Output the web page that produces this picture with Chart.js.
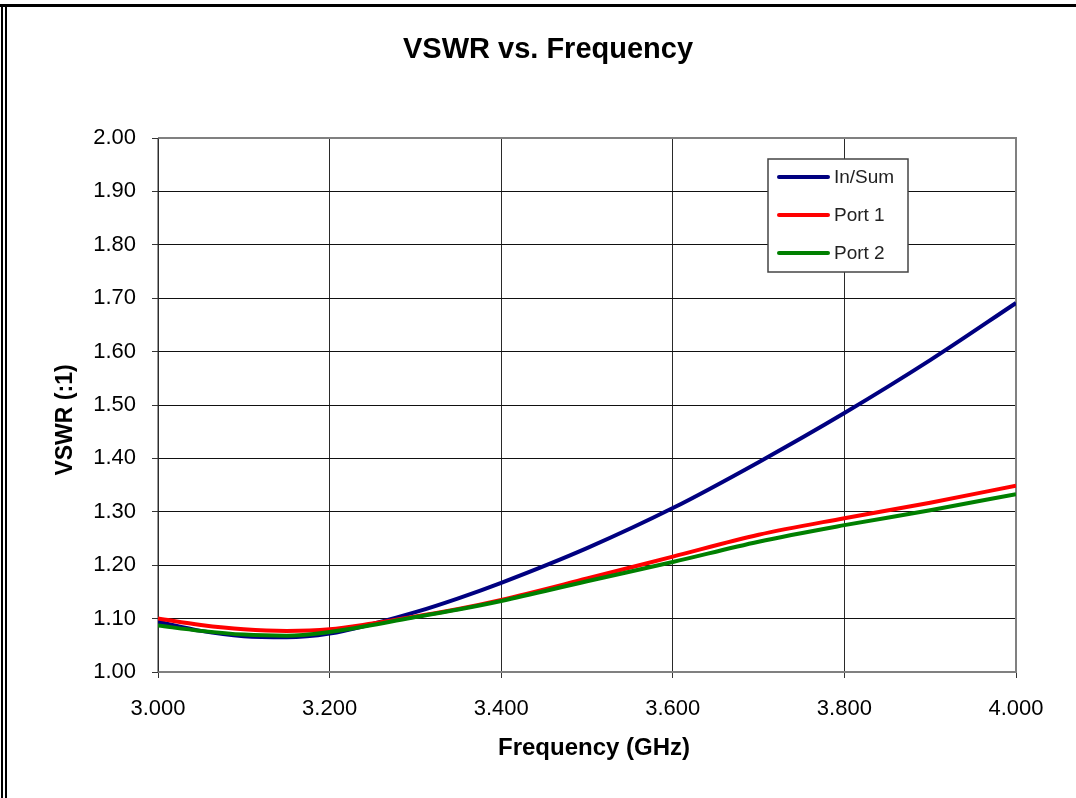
<!DOCTYPE html>
<html lang="en">
<head>
    <meta charset="UTF-8">
    <title>VSWR vs. Frequency</title>
    <script src="https://cdn.jsdelivr.net/npm/chart.js"></script>
    <style>
        html, body {
            margin: 0;
            padding: 0;
            background: #fff;
        }
        canvas {
            display: block;
        }
    </style>
</head>
<body>
    <canvas id="vswrChart" width="1076" height="798"></canvas>

    <script>
        // frequency points (GHz) and VSWR readings
        const freqs = [3.00, 3.05, 3.10, 3.15, 3.20, 3.25, 3.30, 3.35, 3.40, 3.50, 3.60, 3.70, 3.80, 3.90, 4.00];
        const inSum = [1.094, 1.077, 1.067, 1.065, 1.072, 1.090, 1.112, 1.138, 1.167, 1.232, 1.307, 1.393, 1.485, 1.584, 1.691];
        const port1 = [1.100, 1.088, 1.080, 1.077, 1.080, 1.091, 1.104, 1.118, 1.135, 1.175, 1.216, 1.257, 1.288, 1.317, 1.349];
        const port2 = [1.087, 1.077, 1.070, 1.068, 1.075, 1.088, 1.103, 1.117, 1.133, 1.170, 1.206, 1.244, 1.275, 1.303, 1.333];

        const seriesNames = ['In/Sum', 'Port 1', 'Port 2'];
        const seriesColors = ['#000080', '#ff0000', '#008000'];

        const xMin = 3.0, xMax = 4.0, xStep = 0.2;
        const yMin = 1.0, yMax = 2.0, yStep = 0.1;

        const chartTitle = 'VSWR vs. Frequency';
        const xTitle = 'Frequency (GHz)';
        const yTitle = 'VSWR (:1)';

        const FONT = '"Liberation Sans", Arial, sans-serif';

        function toPoints(vals) {
            return freqs.map((f, i) => ({ x: f, y: vals[i] }));
        }

        // frame, plot border, titles and the boxed legend
        const decorations = {
            id: 'decorations',
            beforeDatasetsDraw(chart) {
                const { ctx, chartArea: a } = chart;
                ctx.save();
                ctx.strokeStyle = '#808080';
                ctx.lineWidth = 2;
                ctx.beginPath();
                ctx.moveTo(a.left, a.top);
                ctx.lineTo(a.right, a.top);
                ctx.lineTo(a.right, a.bottom);
                ctx.lineTo(a.left, a.bottom);
                ctx.stroke();
                ctx.strokeStyle = '#333';
                ctx.lineWidth = 1;
                ctx.beginPath();
                ctx.moveTo(a.left, a.top);
                ctx.lineTo(a.left, a.bottom);
                ctx.stroke();
                ctx.restore();
            },
            afterDraw(chart) {
                const { ctx } = chart;
                ctx.save();

                // outer frame
                ctx.fillStyle = '#000';
                ctx.fillRect(0, 4, chart.width, 3);
                ctx.fillRect(1, 4, 2, chart.height);
                ctx.fillRect(5, 4, 2, chart.height);

                // titles
                ctx.fillStyle = '#000';
                ctx.textAlign = 'center';
                ctx.textBaseline = 'middle';
                ctx.font = 'bold 29px ' + FONT;
                ctx.fillText(chartTitle, 548, 50);
                ctx.font = 'bold 24px ' + FONT;
                ctx.fillText(xTitle, 594, 748);
                ctx.save();
                ctx.translate(66, 420);
                ctx.rotate(-Math.PI / 2);
                ctx.font = 'bold 23px ' + FONT;
                ctx.fillText(yTitle, 0, 0);
                ctx.restore();

                // legend
                const lx = 768, ly = 159, lw = 140, lh = 113;
                ctx.fillStyle = '#fff';
                ctx.fillRect(lx, ly, lw, lh);
                ctx.strokeStyle = '#444';
                ctx.lineWidth = 1.5;
                ctx.strokeRect(lx, ly, lw, lh);
                ctx.font = '19px ' + FONT;
                ctx.textAlign = 'left';
                ctx.lineCap = 'round';
                chart.data.datasets.forEach((ds, i) => {
                    const y = 177 + i * 38;
                    ctx.strokeStyle = ds.borderColor;
                    ctx.lineWidth = 4;
                    ctx.beginPath();
                    ctx.moveTo(779, y);
                    ctx.lineTo(828, y);
                    ctx.stroke();
                    ctx.fillStyle = '#222';
                    ctx.fillText(ds.label, 834, y + 1);
                });
                ctx.restore();
            }
        };

        const ctx = document.getElementById('vswrChart').getContext('2d');
        new Chart(ctx, {
            type: 'line',
            data: {
                datasets: [inSum, port1, port2].map((vals, i) => ({
                    label: seriesNames[i],
                    data: toPoints(vals),
                    borderColor: seriesColors[i],
                    backgroundColor: seriesColors[i],
                    borderWidth: 4,
                    pointRadius: 0,
                    fill: false,
                    cubicInterpolationMode: 'monotone',
                    order: 3 - i
                }))
            },
            options: {
                responsive: false,
                animation: false,
                layout: {
                    padding: { left: 0, top: 138, right: 60, bottom: 0 }
                },
                plugins: {
                    legend: { display: false },
                    title: { display: false },
                    tooltip: { enabled: false }
                },
                scales: {
                    x: {
                        type: 'linear',
                        min: xMin,
                        max: xMax,
                        afterFit(scale) { scale.height = 126; },
                        ticks: {
                            stepSize: xStep,
                            padding: 18,
                            color: '#000',
                            font: { family: FONT, size: 22 },
                            callback: v => v.toFixed(3)
                        },
                        grid: {
                            color: '#2a2a2a',
                            lineWidth: 1,
                            tickLength: 6,
                            tickColor: '#333'
                        },
                        border: { display: false }
                    },
                    y: {
                        min: yMin,
                        max: yMax,
                        afterFit(scale) { scale.width = 158; },
                        ticks: {
                            stepSize: yStep,
                            padding: 16,
                            color: '#000',
                            font: { family: FONT, size: 22 },
                            callback: v => v.toFixed(2)
                        },
                        grid: {
                            color: '#111',
                            lineWidth: 1,
                            tickLength: 6,
                            tickColor: '#333'
                        },
                        border: { display: false }
                    }
                }
            },
            plugins: [decorations]
        });
    </script>
</body>
</html>
